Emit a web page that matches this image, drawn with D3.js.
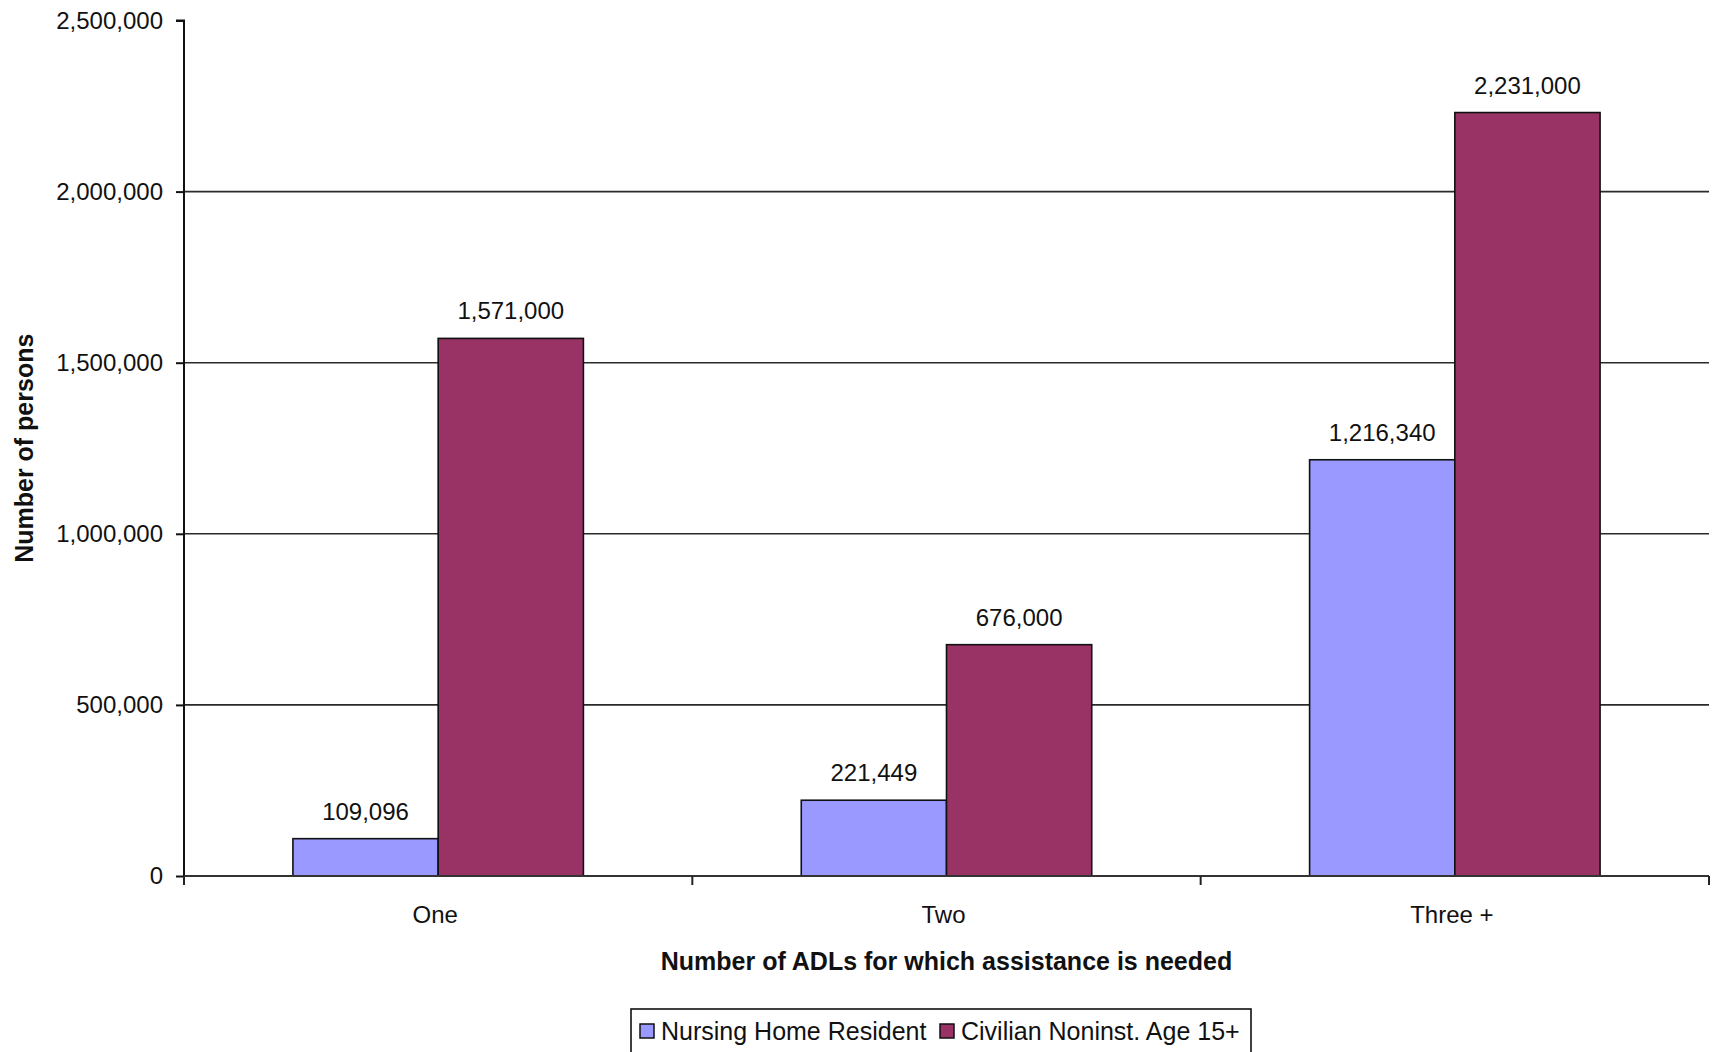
<!DOCTYPE html>
<html>
<head>
<meta charset="utf-8">
<script src="https://cdn.jsdelivr.net/npm/d3@7"></script>
<style>
  html, body { margin: 0; padding: 0; background: #fff; }
  svg { display: block; }
  text { font-family: "Liberation Sans", Arial, sans-serif; fill: #111; }
</style>
</head>
<body>
<svg id="chart" width="1715" height="1052"></svg>
<script>
const categories = ["One", "Two", "Three +"];
const seriesNames = ["Nursing Home Resident", "Civilian Noninst. Age 15+"];
const nursingHome = [109096, 221449, 1216340];
const civilian = [1571000, 676000, 2231000];
const yTicks = [0, 500000, 1000000, 1500000, 2000000, 2500000];
const colors = ["#9999FF", "#993366"];

const svg = d3.select("#chart");
const m = { left: 184, right: 1709, top: 20.5, bottom: 876 };

const x0 = d3.scaleBand().domain(categories).range([m.left, m.right]).padding(0);
const x1 = d3.scaleBand().domain(seriesNames).range([0, x0.bandwidth()]).paddingInner(0).paddingOuter(0.75);
const y = d3.scaleLinear().domain([0, 2500000]).range([m.bottom, m.top]);

const seriesValues = [nursingHome, civilian];
const rows = [];
categories.forEach((c, i) => {
  seriesNames.forEach((s, j) => rows.push({ cat: c, series: s, value: seriesValues[j][i], color: colors[j] }));
});

// gridlines
svg.append("g").selectAll("line")
  .data(yTicks.filter(t => t > 0 && t < 2500000))
  .join("line")
  .attr("x1", m.left).attr("x2", m.right)
  .attr("y1", d => y(d)).attr("y2", d => y(d))
  .attr("stroke", "#2a2a2a").attr("stroke-width", 1.6);

// bars
svg.append("g").selectAll("rect")
  .data(rows)
  .join("rect")
  .attr("x", d => x0(d.cat) + x1(d.series))
  .attr("width", x1.bandwidth())
  .attr("y", d => y(d.value))
  .attr("height", d => y(0) - y(d.value))
  .attr("fill", d => d.color)
  .attr("stroke", "#111").attr("stroke-width", 1.6);

// data labels
svg.append("g").selectAll("text")
  .data(rows)
  .join("text")
  .attr("x", d => x0(d.cat) + x1(d.series) + x1.bandwidth() / 2)
  .attr("y", d => y(d.value) - 19)
  .attr("text-anchor", "middle")
  .attr("font-size", 24)
  .text(d => d3.format(",")(d.value));

// y axis
const yAxis = svg.append("g")
  .attr("transform", `translate(${m.left},0)`)
  .call(d3.axisLeft(y).tickValues(yTicks).tickSize(8).tickPadding(13).tickFormat(d3.format(",")));
yAxis.select(".domain").attr("stroke", "#111").attr("stroke-width", 2).attr("d", `M-8,${m.top}H0V${m.bottom}`);
yAxis.selectAll(".tick line").attr("stroke", "#111").attr("stroke-width", 2);
yAxis.selectAll(".tick text").attr("font-size", 24).attr("font-family", "Liberation Sans, Arial, sans-serif").attr("fill", "#111");

// x axis line at zero
svg.append("line")
  .attr("x1", m.left).attr("x2", m.right)
  .attr("y1", y(0)).attr("y2", y(0))
  .attr("stroke", "#333").attr("stroke-width", 2);

// x category boundary ticks
const bounds = categories.map(c => x0(c)).concat([x0(categories[categories.length - 1]) + x0.bandwidth()]);
svg.append("g").selectAll("line")
  .data(bounds)
  .join("line")
  .attr("x1", d => d).attr("x2", d => d)
  .attr("y1", y(0)).attr("y2", y(0) + 9)
  .attr("stroke", "#222").attr("stroke-width", 2);

// x category labels
const xAxis = svg.append("g")
  .attr("transform", `translate(0,${m.bottom})`)
  .call(d3.axisBottom(x0).tickSize(0).tickPadding(30));
xAxis.select(".domain").remove();
xAxis.selectAll(".tick text").attr("font-size", 24).attr("font-family", "Liberation Sans, Arial, sans-serif").attr("fill", "#111").attr("dx", -3);

// axis titles
svg.append("text")
  .attr("x", (m.left + m.right) / 2).attr("y", 970)
  .attr("text-anchor", "middle")
  .attr("font-size", 25).attr("font-weight", "bold")
  .text("Number of ADLs for which assistance is needed");

svg.append("text")
  .attr("transform", `translate(33,${(m.top + m.bottom) / 2}) rotate(-90)`)
  .attr("text-anchor", "middle")
  .attr("font-size", 25).attr("font-weight", "bold")
  .text("Number of persons");

// legend
const lg = svg.append("g");
lg.append("rect")
  .attr("x", 631).attr("y", 1009).attr("width", 620).attr("height", 70)
  .attr("fill", "#fff").attr("stroke", "#111").attr("stroke-width", 1.6);
const legendX = [640, 940];
seriesNames.forEach((s, j) => {
  lg.append("rect")
    .attr("x", legendX[j]).attr("y", 1024).attr("width", 14).attr("height", 14)
    .attr("fill", colors[j]).attr("stroke", "#111").attr("stroke-width", 1.5);
  lg.append("text")
    .attr("x", legendX[j] + 21).attr("y", 1040)
    .attr("font-size", 25)
    .text(s);
});
</script>
</body>
</html>
